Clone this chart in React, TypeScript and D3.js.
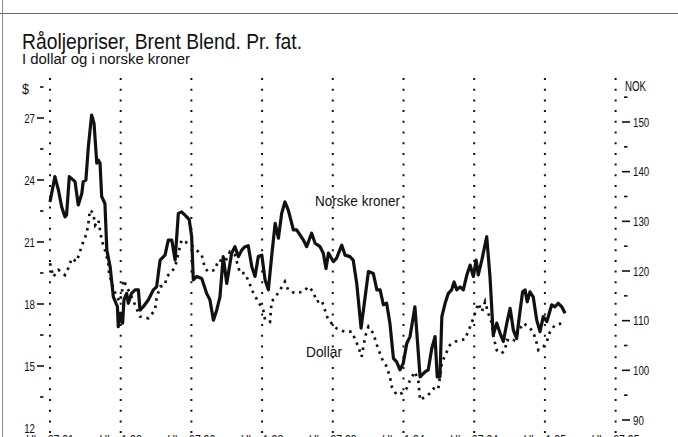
import React from "react";
import * as d3 from "d3";

// Weeks counted from "Uke 27.91"
const nokWeeks = [0,1.8,3.1,4.3,5.5,6.1,7.1,8.6,9.2,10.4,11.7,12.2,13.2,14.1,15.3,16.2,17.2,17.8,18.4,19.0,20.2,20.9,22.1,23.3,24.8,25.1,26.0,26.7,27.2,28.2,28.8,30.0,31.3,32.5,33.1,34.3,36.2,38.0,39.2,40.5,42.3,43.5,44.8,46.0,47.2,48.4,50.3,51.2,52.1,52.7,54.0,55.8,57.6,58.8,60.1,61.3,62.5,63.7,65.0,66.8,68.0,69.3,70.5,71.7,72.9,74.2,75.4,76.6,77.9,79.1,80.3,81.5,82.8,84.0,85.2,86.4,87.6,89.5,90.7,93.2,94.4,96.2,97.5,99.3,100.5,101.5,102.4,104.2,105.4,107.3,108.5,110.3,111.5,112.8,114.4,115.9,117.1,118.9,120.2,121.4,122.6,123.8,125.0,126.3,127.5,128.7,129.9,131.2,132.4,134.2,136.1,137.9,139.1,140.4,141.6,142.4,143.4,144.1,145.3,146.5,147.7,148.6,149.6,150.8,152.0,153.3,154.5,155.7,156.7,157.5,158.8,160.6,161.8,163.0,164.3,165.5,166.7,168.0,169.2,170.4,171.6,172.9,173.8,174.7,175.5,176.5,177.7,179.0,180.2,181.4,182.7,183.6,184.5,185.7,186.9,188.2,189.4];
const nokValues = [133.9,139.0,136.3,132.9,130.9,131.3,139.0,138.3,138.0,133.3,135.6,138.0,138.3,145.0,151.4,149.7,141.7,142.3,141.7,135.0,133.6,124.2,120.9,114.8,112.8,108.8,111.5,109.5,114.2,115.5,113.5,115.5,116.2,116.2,112.1,112.8,114.2,116.2,116.8,122.2,123.2,126.2,126.2,122.2,131.6,131.9,130.9,130.3,126.9,118.2,118.9,118.5,115.5,114.2,110.1,112.1,114.8,122.9,117.5,123.6,124.9,122.9,124.2,124.9,125.1,120.9,118.9,122.9,123.2,118.2,116.2,122.9,129.6,126.6,131.6,133.9,132.3,128.3,128.3,126.2,124.9,127.6,125.6,124.9,123.6,120.5,123.6,121.9,122.6,125.2,123.2,122.9,122.2,117.5,108.5,114.8,119.9,119.5,116.2,116.2,113.2,113.5,109.5,102.4,101.7,100.1,101.4,105.4,106.8,112.8,98.7,99.7,100.1,104.4,106.8,98.7,98.7,110.8,113.5,115.5,116.2,117.8,116.2,116.8,116.2,119.2,121.2,118.9,122.2,119.2,122.2,126.9,118.9,107.1,109.5,107.5,105.8,109.5,112.5,108.1,106.4,112.1,115.8,116.2,113.8,115.8,114.8,110.1,107.8,110.8,109.8,111.5,113.2,112.8,113.5,112.8,111.5];

const usdWeeks = [0,1.2,3.1,5.5,6.7,8.0,9.8,11.0,12.2,13.5,14.1,14.7,15.9,16.6,17.8,18.4,19.0,20.2,21.4,21.7,22.7,24.5,25.7,26.4,27.0,28.2,30.0,33.1,36.2,38.6,39.2,40.5,42.3,42.9,44.8,46.0,48.4,51.9,55.8,57.0,58.2,60.7,61.9,64.4,66.2,68.0,69.9,71.7,73.6,74.8,76.6,78.4,79.1,80.9,81.5,83.4,84.6,86.4,87.6,90.1,93.2,95.0,96.8,98.1,99.9,101.1,102.3,104.2,105.4,106.7,108.5,111.0,113.4,114.6,115.9,117.1,118.9,120.2,122.0,123.8,125.0,125.7,127.5,129.3,131.2,132.4,134.2,135.5,136.1,137.9,139.8,141.6,142.8,144.1,145.3,147.1,149.0,150.8,152.6,154.5,155.7,156.3,157.5,158.8,160.0,161.2,162.5,163.1,164.3,166.1,167.3,168.0,170.4,172.2,174.1,175.9,177.7,179.0,179.6,181.4,182.7,183.9,185.7,189.4];
const usdValues = [19.97,19.32,19.65,19.40,19.73,20.21,20.05,20.53,21.01,21.42,21.90,22.55,22.39,21.82,22.06,21.58,21.10,20.61,20.05,19.49,19.00,18.35,18.11,18.52,19.16,18.84,18.35,17.39,17.31,17.71,18.28,18.84,18.92,19.32,19.56,19.80,21.10,20.86,20.37,19.73,19.56,19.65,20.13,20.05,20.53,20.37,19.49,19.49,18.92,18.52,18.11,17.71,17.23,17.14,18.11,18.44,18.68,19.08,18.68,18.52,18.60,18.84,18.60,18.11,18.19,17.71,17.23,16.98,16.82,16.74,16.66,16.66,15.93,15.45,16.42,16.90,16.58,16.02,15.37,14.97,14.48,14.00,13.60,13.68,13.92,14.32,14.72,14.24,13.35,13.51,13.68,14.00,13.92,15.13,15.53,16.02,16.18,16.26,16.29,16.90,17.31,17.55,18.03,17.63,18.11,17.55,17.07,16.42,15.77,15.61,15.77,16.26,16.18,16.66,17.07,16.90,16.66,16.10,15.77,15.93,16.18,16.66,16.98,17.10];

const xTickWeeks = [0, 26, 52, 78, 104, 130, 156, 182, 208];
const xTickLabels = ["Uke 27.91", "Uke 1.92", "Uke 27.92", "Uke 1.93", "Uke 27.93", "Uke 1.94", "Uke 27.94", "Uke 1.95", "Uke 27.95"];
const usdMajor = [27, 24, 21, 18, 15];
const usdMinor = [28.5, 25.5, 22.5, 19.5, 16.5, 13.5];
const usdLabels = [27, 24, 21, 18, 15, 12];
const nokMajor = [150, 140, 130, 120, 110, 100, 90];
const nokMinor = [155, 145, 135, 125, 115, 105, 95];

const FONT = "'Liberation Sans Narrow', 'Arial Narrow', 'Liberation Sans', Arial, sans-serif";

export default function App() {
  const W = 678, H = 437;
  const x = d3.scaleLinear().domain([0, 208]).range([50, 615.6]);
  const yUsd = d3.scaleLinear().domain([12, 27]).range([428, 118]);
  const yNok = d3.scaleLinear().domain([90, 150]).range([420, 122]);

  const nokLine = d3.line<number>().x((_, i) => x(nokWeeks[i])).y((d) => yNok(d));
  const usdLine = d3.line<number>().x((_, i) => x(usdWeeks[i])).y((d) => yUsd(d));

  const numLen = (v: number) => String(v).length * 5.4;

  return (
    <svg width={W} height={H} style={{ position: "absolute", left: 0, top: 0, background: "#fff" }} fontFamily={FONT}>
      <rect x={0} y={0} width={W} height={H} fill="#fff" />
      {/* frame */}
      <line x1={0} x2={W} y1={13.5} y2={13.5} stroke="#666" strokeWidth={1.2} />
      <line x1={2.5} x2={2.5} y1={0} y2={H} stroke="#888" strokeWidth={1} />

      {/* titles */}
      <text x={22} y={49} fontSize={22.5} textLength={280} lengthAdjust="spacingAndGlyphs" fill="#111">Råoljepriser, Brent Blend. Pr. fat.</text>
      <text x={22} y={64} fontSize={15.5} textLength={168} lengthAdjust="spacingAndGlyphs" fill="#111">I dollar og i norske kroner</text>

      {/* vertical dotted grid lines */}
      {xTickWeeks.map((w, i) => (
        <line key={"g" + i} x1={x(w)} x2={x(w)} y1={78} y2={H} stroke="#111" strokeWidth={2} strokeDasharray="2 8.7" />
      ))}

      {/* left axis */}
      <text x={22} y={94} fontSize={14} textLength={7} lengthAdjust="spacingAndGlyphs" fill="#111">$</text>
      {usdMajor.map((v) => (
        <line key={"um" + v} x1={37} x2={44} y1={yUsd(v)} y2={yUsd(v)} stroke="#111" strokeWidth={1.6} />
      ))}
      {usdMinor.map((v) => (
        <line key={"un" + v} x1={40} x2={43.5} y1={yUsd(v)} y2={yUsd(v)} stroke="#111" strokeWidth={1.6} />
      ))}
      {usdLabels.map((v) => (
        <text key={"ul" + v} x={35} y={yUsd(v) + 4.5} fontSize={12.5} textAnchor="end" textLength={numLen(v)} lengthAdjust="spacingAndGlyphs" fill="#111">{v}</text>
      ))}

      {/* right axis */}
      <text x={625} y={91} fontSize={14} textLength={21} lengthAdjust="spacingAndGlyphs" fill="#111">NOK</text>
      {nokMajor.map((v) => (
        <line key={"nm" + v} x1={622} x2={630} y1={yNok(v)} y2={yNok(v)} stroke="#111" strokeWidth={1.6} />
      ))}
      {nokMinor.map((v) => (
        <line key={"nn" + v} x1={624} x2={627.5} y1={yNok(v)} y2={yNok(v)} stroke="#111" strokeWidth={1.6} />
      ))}
      {nokMajor.map((v) => (
        <text key={"nl" + v} x={633} y={yNok(v) + 4.5} fontSize={12.5} textLength={numLen(v)} lengthAdjust="spacingAndGlyphs" fill="#111">{v}</text>
      ))}

      {/* x labels (cut off at bottom) */}
      {xTickWeeks.map((w, i) => (
        <text key={"xl" + i} x={x(w)} y={444} fontSize={12.5} textAnchor="middle" textLength={xTickLabels[i].length * 5.3} lengthAdjust="spacingAndGlyphs" fill="#111">{xTickLabels[i]}</text>
      ))}

      {/* series */}
      <path d={usdLine(usdValues) || ""} fill="none" stroke="#111" strokeWidth={2.7} strokeDasharray="2.5 4.8" />
      <path d={nokLine(nokValues) || ""} fill="none" stroke="#111" strokeWidth={3.2} strokeLinejoin="round" />

      {/* series labels */}
      <text x={315} y={206} fontSize={15} textLength={85} lengthAdjust="spacingAndGlyphs" fill="#111">Norske kroner</text>
      <text x={306} y={357} fontSize={15} textLength={36} lengthAdjust="spacingAndGlyphs" fill="#111">Dollar</text>
    </svg>
  );
}
